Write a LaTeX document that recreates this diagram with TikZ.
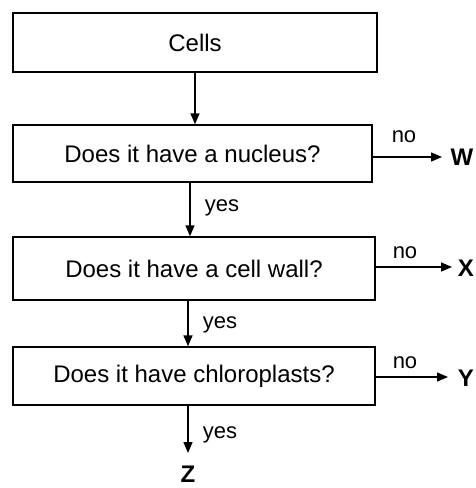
\documentclass[tikz,border=0pt]{standalone}
\usepackage{fontspec}
\setmainfont{Liberation Sans}
\usetikzlibrary{arrows.meta}
\begin{document}
\begin{tikzpicture}[x=1pt,y=-1pt,
  box/.style={draw,line width=1.4pt,inner sep=0pt,font=\fontsize{24}{26}\selectfont},
  arr/.style={line width=1.4pt,-{Triangle[length=11pt,width=9pt]}},
  lbl/.style={inner sep=0pt,font=\fontsize{22}{24}\selectfont},
  res/.style={inner sep=0pt,font=\bfseries\fontsize{24}{26}\selectfont}]
\useasboundingbox (0,0) rectangle (476,488);
\node[box,minimum width=364pt,minimum height=59pt] (cells) at (195,42.5) {Cells};
\node[box,minimum width=359pt,minimum height=57pt] (b1) at (192.5,153.5) {Does it have a nucleus?};
\node[box,minimum width=362pt,minimum height=63pt] (b2) at (194,268.5) {Does it have a cell wall?};
\node[box,minimum width=362pt,minimum height=58pt] (b3) at (194,376) {Does it have chloroplasts?};
\coordinate (tW) at (442,157);
\coordinate (tX) at (452,267);
\coordinate (tY) at (448,377);
\node[res] (W) at (462,157) {W};
\node[res] (X) at (466,268) {X};
\node[res] (Y) at (466,378) {Y};
\node[res] (Z) at (188,474) {Z};
\coordinate (tZ) at (188,453);
\draw[arr] (cells.south) -- (cells.south |- b1.north);
\draw[arr] (b1.south -| 190,0) -- (b2.north -| 190,0);
\draw[arr] (b2.south -| 188,0) -- (b3.north -| 188,0);
\draw[arr] (b3.south -| tZ) -- (tZ);
\draw[arr] (b1.east |- tW) -- (tW);
\draw[arr] (b2.east |- tX) -- (tX);
\draw[arr] (b3.east |- tY) -- (tY);
\node[lbl] (no1) at (404,137) {no};
\node[lbl] (no2) at (405,253) {no};
\node[lbl] (no3) at (405,363) {no};
\node[lbl] (y1) at (222,208) {yes};
\node[lbl] (y2) at (220,325) {yes};
\node[lbl] (y3) at (220,435) {yes};
\end{tikzpicture}
\end{document}
